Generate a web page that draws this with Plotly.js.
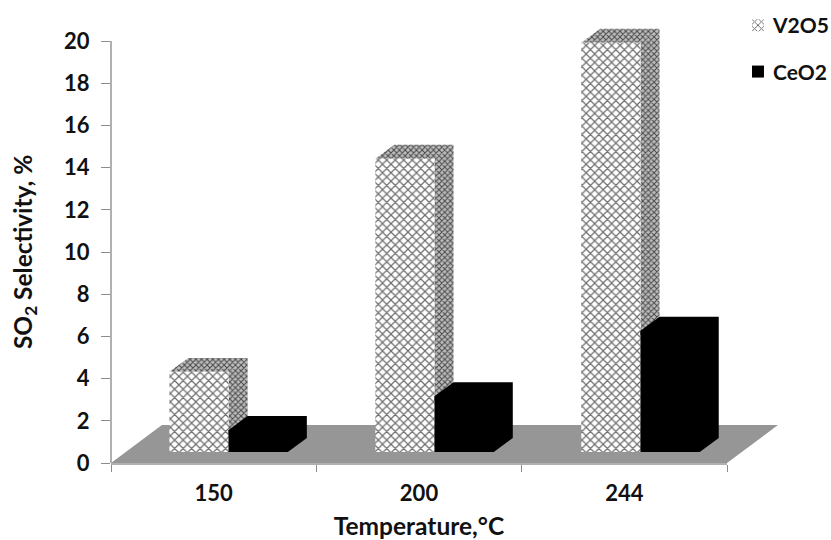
<!DOCTYPE html>
<html>
<head>
<meta charset="utf-8">
<script src="https://cdn.plot.ly/plotly-3.0.1.min.js"></script>
<style>html,body{margin:0;padding:0;background:#fff}</style>
</head>
<body>
<div id="chart" style="width:831px;height:540px"></div>
<script>
// Selectivity by catalyst and temperature
const temperatures = ['150', '200', '244'];
const v2o5 = [3.8, 13.9, 19.4];
const ceo2 = [1.05, 2.65, 5.75];
const valueTicks = [0, 2, 4, 6, 8, 10, 12, 14, 16, 18, 20];

// Oblique projection used for the pseudo-3D look, in axis units
const barWidth = 0.2885;
const firstBarCentre = 0.4285;
const secondBarCentre = firstBarCentre + barWidth;
const groupStep = 1.003;
const floorLift = 0.52;       // bars stand on the floor, slightly above the zero line
const depthX = 0.0925;
const depthY = 0.663;
const floorDepthX = 0.248;
const floorDepthY = 1.8;

const groupIndex = temperatures.map((_, i) => i);

// Faces receding from the front rectangle of a bar
function sideFace(left, value) {
  const r = left + barWidth, b = floorLift, t = floorLift + value;
  return { x: [r, r + depthX, r + depthX, r, r], y: [b, b + depthY, t + depthY, t, b] };
}
function topFace(left, value) {
  const r = left + barWidth, t = floorLift + value;
  return { x: [left, left + depthX, r + depthX, r, left], y: [t, t + depthY, t + depthY, t, t] };
}
// Side and top as one outline, tucked behind the front so a solid bar shows no seam
function solidBack(left, value) {
  const r = left + barWidth, b = floorLift, t = floorLift + value;
  const inX = r - 0.02, inY = t - 0.2;
  return {
    x: [left, left + depthX, r + depthX, r + depthX, r, inX, inX, left, left],
    y: [t, t + depthY, t + depthY, b + depthY, b, b, inY, inY, t]
  };
}

const hatchFront = { shape: 'x', bgcolor: '#ffffff', fgcolor: '#6e6e6e', size: 6, solidity: 0.36 };
const hatchDark = { shape: 'x', bgcolor: '#bdbdbd', fgcolor: '#4a4a4a', size: 4, solidity: 0.45 };

function faceTrace(face, opts) {
  return Object.assign({
    type: 'scatter', mode: 'lines', x: face.x, y: face.y, fill: 'toself',
    line: { width: 0 }, showlegend: false, hoverinfo: 'skip', cliponaxis: false
  }, opts);
}

const traces = [];

// Hatched faces sit on the lower subplot so the black bars can cover them
groupIndex.forEach(i => {
  const left = i * groupStep + firstBarCentre - barWidth / 2;
  traces.push(faceTrace(sideFace(left, v2o5[i]), { fillcolor: '#a0a0a0', fillpattern: hatchDark }));
  traces.push(faceTrace(topFace(left, v2o5[i]), { fillcolor: '#a0a0a0', fillpattern: hatchDark }));
});

traces.push({
  type: 'bar', name: 'V2O5', xaxis: 'x2', yaxis: 'y2',
  x: groupIndex.map(i => i * groupStep + firstBarCentre), y: v2o5, base: floorLift, width: barWidth,
  marker: { color: '#ffffff', line: { width: 0 }, pattern: hatchFront },
  legendgroup: 'v2o5', cliponaxis: false
});
traces.push({
  type: 'bar', name: 'CeO2', xaxis: 'x2', yaxis: 'y2',
  x: groupIndex.map(i => i * groupStep + secondBarCentre), y: ceo2, base: floorLift, width: barWidth,
  marker: { color: '#000000', line: { width: 0 } },
  legendgroup: 'ceo2', cliponaxis: false
});

groupIndex.forEach(i => {
  const left = i * groupStep + secondBarCentre - barWidth / 2;
  traces.push(faceTrace(solidBack(left, ceo2[i]), { xaxis: 'x2', yaxis: 'y2', fillcolor: '#000000' }));
});

const tickFont = { family: 'Lato, Carlito, sans-serif', size: 22, color: '#111111', weight: 700 };
const titleFont = { family: 'Lato, Carlito, sans-serif', size: 24.5, color: '#111111', weight: 700 };
const legendFont = { family: 'Lato, Carlito, sans-serif', size: 21, color: '#111111', weight: 700 };
const axisGrey = '#b0b0b0';

// The value range runs one unit past the last tick so the tallest bar's top face has room;
// the axis line and its title are tied to the ticked part only
const xRange = [0, 3];
const yRange = [0, 21];
const lastTick = valueTicks[valueTicks.length - 1];

const px = u => u / xRange[1];
const py = u => u / yRange[1];
const floorPath = 'M ' + px(0) + ' ' + py(0) +
  ' L ' + px(3) + ' ' + py(0) +
  ' L ' + px(3 + floorDepthX) + ' ' + py(floorDepthY) +
  ' L ' + px(floorDepthX) + ' ' + py(floorDepthY) + ' Z';

const layout = {
  width: 831, height: 540,
  margin: { l: 111, r: 104, t: 19.9, b: 77, autoexpand: false },
  paper_bgcolor: '#ffffff', plot_bgcolor: 'rgba(0,0,0,0)',
  barmode: 'overlay', font: tickFont,
  xaxis: {
    range: xRange, showgrid: false, zeroline: false, showline: true,
    linecolor: axisGrey, linewidth: 2,
    tickmode: 'array', tickvals: [0.5, 1.5, 2.5], ticktext: temperatures,
    ticks: '', tickfont: tickFont, ticklabelstandoff: 10,
    minor: { tickmode: 'array', tickvals: [0, 1, 2, 3], ticks: 'outside', ticklen: 7, tickcolor: '#8c8c8c', tickwidth: 1, showgrid: false },
    title: { text: 'Temperature,°C', font: titleFont, standoff: 14 }
  },
  yaxis: {
    range: yRange, showgrid: false, zeroline: false, showline: false,
    tickmode: 'array', tickvals: valueTicks, ticks: 'outside', ticklen: 9,
    tickcolor: '#8c8c8c', tickwidth: 1, tickfont: tickFont, ticklabelstandoff: 7
  },
  xaxis2: { overlaying: 'x', matches: 'x', visible: false, range: xRange },
  yaxis2: { overlaying: 'y', matches: 'y', visible: false, range: yRange },
  annotations: [{
    text: 'SO<sub>2</sub> Selectivity, %', textangle: -90, font: titleFont, showarrow: false,
    xref: 'paper', x: -0.1412, xanchor: 'center', yref: 'y', y: lastTick / 2, yanchor: 'middle'
  }],
  shapes: [{
    type: 'path', xref: 'paper', yref: 'paper', layer: 'below',
    path: floorPath, fillcolor: '#969696', line: { width: 0 }
  }, {
    type: 'line', xref: 'paper', yref: 'y', layer: 'below',
    x0: 0, x1: 0, y0: 0, y1: lastTick, line: { color: axisGrey, width: 2 }
  }],
  legend: {
    x: 1.0097, xanchor: 'left', y: 1.0336, yanchor: 'top',
    bgcolor: 'rgba(0,0,0,0)', font: legendFont, tracegroupgap: 16, itemsizing: 'constant'
  },
  showlegend: true
};

Plotly.newPlot('chart', traces, layout, { displayModeBar: false, staticPlot: true }).then(gd => {
  // Tuck the legend keys in closer to their labels
  gd.querySelectorAll('.legend .legendsymbols').forEach(g => g.setAttribute('transform', 'translate(5,0)'));
});
</script>
</body>
</html>
